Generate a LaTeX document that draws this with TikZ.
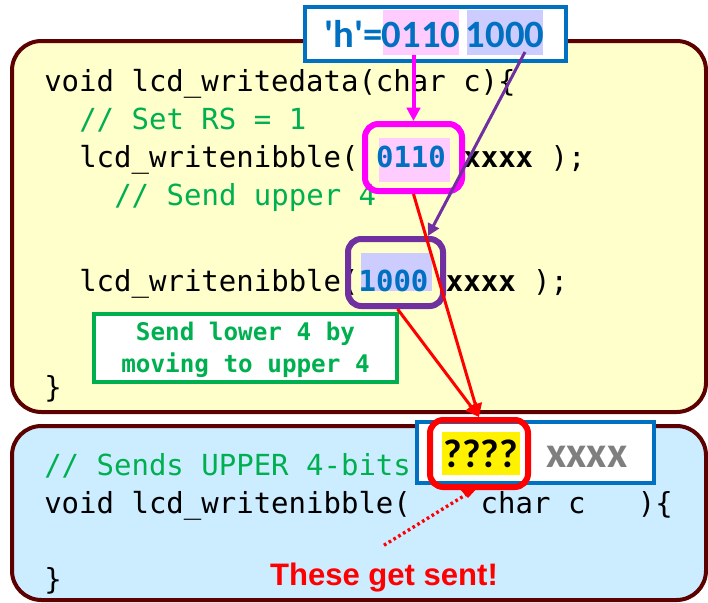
\documentclass[tikz,border=0pt]{standalone}
\usepackage{fontspec}
\setmonofont{DejaVu Sans Mono}
\newfontfamily\calibfont[Ligatures=TeXOff]{Carlito}
\newfontfamily\arialfont{Liberation Sans}
\usetikzlibrary{arrows.meta,fit,calc}

\definecolor{boxedge}{HTML}{5C0000}
\definecolor{codegreen}{HTML}{00B050}
\definecolor{msblue}{HTML}{0070C0}
\definecolor{mspurple}{HTML}{7030A0}
\definecolor{pinkhl}{HTML}{FFCCFF}
\definecolor{lavhl}{HTML}{CCCCFF}
\definecolor{paleyellow}{HTML}{FFFFCC}
\definecolor{paleblue}{HTML}{CCECFF}
\definecolor{xgray}{HTML}{7F7F7F}
\definecolor{magentaline}{HTML}{FF00FF}

\newcommand\codefont{\ttfamily\fontsize{21.75pt}{26pt}\selectfont}
\newcommand\notefont{\ttfamily\bfseries\fontsize{18.2pt}{22pt}\selectfont}
\newcommand\bitsfont{\calibfont\bfseries\fontsize{29pt}{32pt}\selectfont}
\newcommand\qfont{\calibfont\bfseries\fontsize{30pt}{34pt}\selectfont}
\newcommand\xfont{\calibfont\bfseries\fontsize{33pt}{36pt}\selectfont}

\begin{document}
\begin{tikzpicture}[x=0.75pt,y=-0.75pt,
  panel/.style={draw=boxedge, line width=3pt, rounded corners=22pt, inner sep=0pt},
  hilite/.style={inner sep=0pt, outer sep=0pt},
  code/.style={anchor=base west, inner sep=0pt, font=\codefont},
  comment/.style={code, text=codegreen},
  framebox/.style={draw=#1, line width=4.5pt, rounded corners=10pt, inner sep=0pt},
  bluebox/.style={draw=msblue, line width=3pt, fill=white, inner sep=0pt},
  magarrow/.style={draw=magentaline, line width=3pt, -{Triangle[width=10pt,length=10pt]}},
  purarrow/.style={draw=mspurple, line width=2.25pt, -{Triangle[width=9pt,length=9pt]}},
  redarrow/.style={draw=red, line width=2.25pt, -{Triangle[width=10pt,length=10pt]}},
  dotline/.style={draw=red, line width=2.5pt, dash pattern=on 2pt off 2.2pt},
]
\useasboundingbox (0,0) rectangle (708,603);

% the two code panels
\node[panel, fill=paleyellow, fit={(12,41) (706,412)}] (upper) {};
\node[panel, fill=paleblue, fit={(12,426) (706,600)}] (lower) {};

% highlighted nibbles in the caller
\node[hilite, fill=pinkhl, fit={(379,138) (450,182)}] (nib1) {};
\node[hilite, fill=lavhl, fit={(361,253) (432,291)}] (nib2) {};

% caller code
\node[code] (l1) at (44,91) {void lcd\_writedata(char c)\{};
\node[comment] (l2) at (79,129) {// Set RS = 1};
\node[code] (l3) at (79,167) {lcd\_writenibble(~\textbf{\textcolor{msblue}{0110}}~\textbf{xxxx}~);};
\node[comment] (l4) at (114,205) {// Send upper 4};
\node[code] (l5) at (79,291) {lcd\_writenibble(\textbf{\textcolor{msblue}{1000}}~\textbf{xxxx}~);};
\node[code] (l6) at (44,397) {\}};

% note box
\node[draw=codegreen, line width=3pt, fill=white, inner sep=0pt, fit={(94,314) (397,382)}] (note) {};
\node[anchor=base, inner sep=0pt, font=\notefont, text=codegreen] (note1) at (245.5,340) {Send lower 4 by};
\node[anchor=base, inner sep=0pt, font=\notefont, text=codegreen] (note2) at (245.5,372) {moving to upper 4};

% callee code
\node[comment] (m1) at (44,475) {// Sends UPPER 4-bits};
\node[code] (m2) at (44,513) {void lcd\_writenibble(~~~~char c~~~)\{};
\node[code] (m3) at (44,589) {\}};

% the character 'h' split into nibbles
\node[bluebox, fit={(305,7) (566,61)}] (hbox) {};
\node[hilite, fill=pinkhl, fit={(383,10) (459,55)}] (hi1) {};
\node[hilite, fill=lavhl, fit={(467,10) (543,55)}] (hi2) {};
\node[anchor=base east, inner sep=0pt, font=\bitsfont, text=msblue] (hchar) at (383,47) {'h'=};
\node[anchor=base, inner sep=0pt, font=\bitsfont, text=msblue] (hup) at (421,47) {0110};
\node[anchor=base, inner sep=0pt, font=\bitsfont, text=msblue] (hlow) at (505,47) {1000};

% the byte received by the callee
\node[bluebox, fit={(417,422) (654,483)}] (qbox) {};
\node[hilite, fill=yellow, fit={(442,432) (520,475)}] (qhl) {};
\node[anchor=base, inner sep=0pt, font=\qfont] (qmarks) at (481,467) {????};
\node[anchor=base, inner sep=0pt, font=\xfont, text=xgray] (qx) at (587,467) {xxxx};

% frames around the nibbles
\node[framebox=magentaline, fit={(365,124) (462,191)}] (mbox) {};
\node[framebox=mspurple, fit={(348,239) (443,306)}] (pbox) {};
\node[framebox=red, fit={(430,420) (528,487)}] (rbox) {};
\fill[red] (457,486) -- (479,486) -- (468,498) -- cycle;
\coordinate (tip) at (467,494);

% label
\node[anchor=base, inner sep=0pt, font=\arialfont\bfseries\fontsize{23.3pt}{28pt}\selectfont, text=red] (sent) at (384,585) {These get sent!};

% connectors
\draw[magarrow] (hi1.south -| mbox.north) -- (mbox.north);
\draw[purarrow] ($(hi2.south east)+(-18,-3)$) -- ($(pbox.north east)+(-18,0)$);
\draw[redarrow] (mbox.south) -- (rbox.north);
\draw[redarrow] ($(pbox.south)+(2,0)$) -- (rbox.north);
\draw[dotline] ([yshift=12.75pt]sent.north) -- (tip);
\end{tikzpicture}
\end{document}
